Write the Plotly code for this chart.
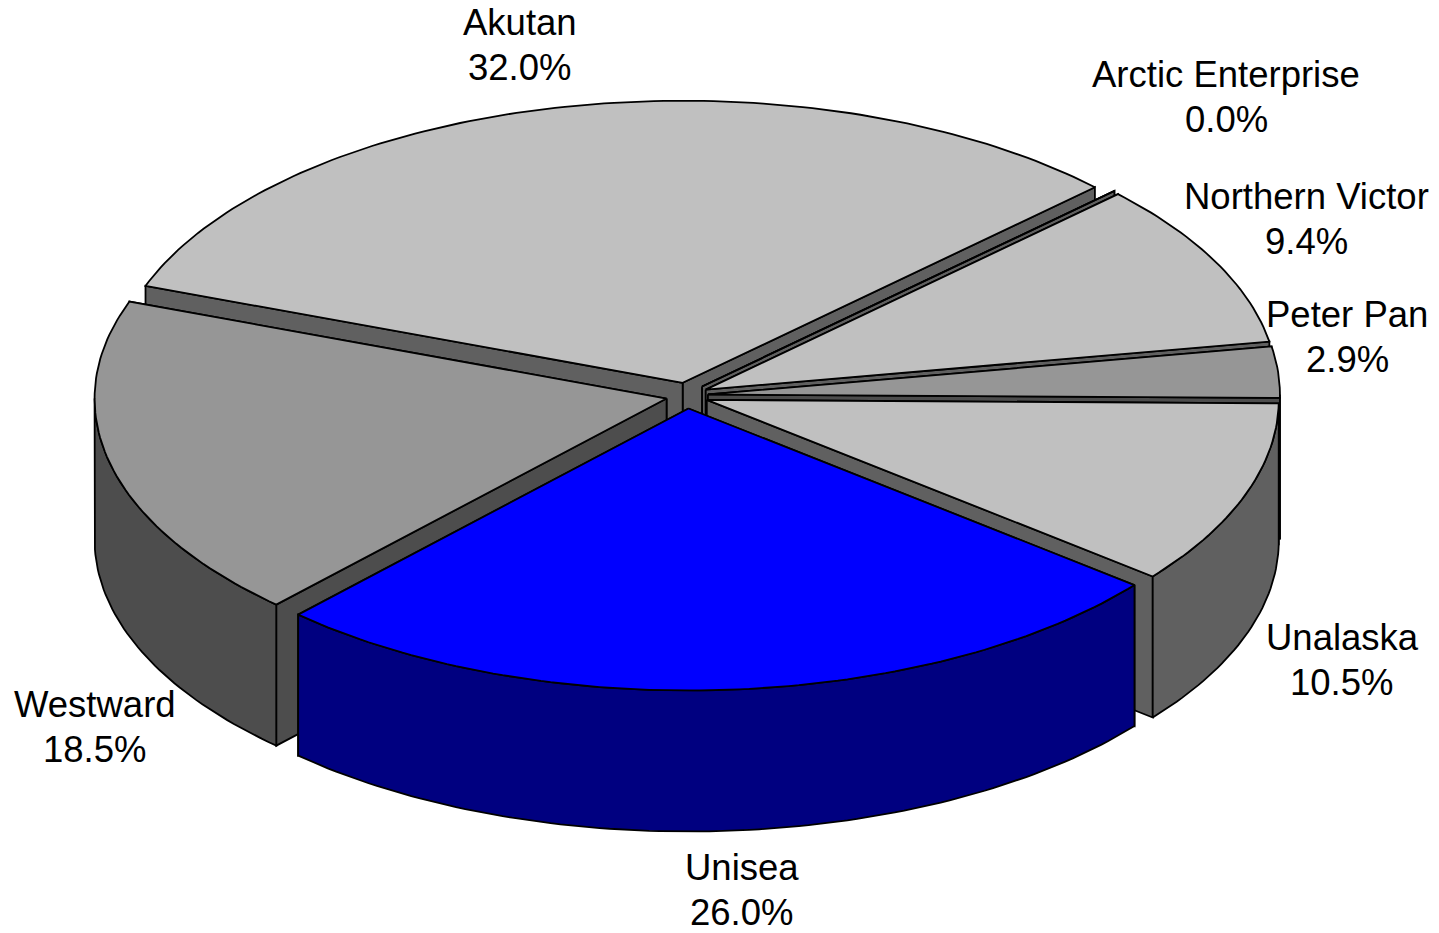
import math
import plotly.graph_objects as go

# ---- data ----
slices = ["Akutan", "Arctic Enterprise", "Northern Victor", "Peter Pan", "Unalaska", "Unisea", "Westward"]
shares = [32.0, 0.0, 9.4, 2.9, 10.5, 26.0, 18.5]

# ---- styling / geometry of the projected pie ----
top_colors = ["#C0C0C0", "#C0C0C0", "#C0C0C0", "#969696", "#C0C0C0", "#0000FF", "#969696"]
wall_colors = ["#606060", "#606060", "#606060", "#4D4D4D", "#606060", "#000080", "#4D4D4D"]
label_xy = [(520, 45), (1226, 97), (1306, 219), (1347, 337), (1342, 660), (742, 890), (95, 727)]
draw_order = [0, 1, 2, 3, 4, 6, 5]

W, H = 1439, 933
CX, CY = 687, 395.5
RX, RY = 572, 282
DEPTH = 141
EX, EY = 21, 13
START = -69.9
LINE = dict(color="#000000", width=1.8)
FONT = dict(family="Liberation Sans, Arial, sans-serif", size=36.5, color="#000000")
LINE_GAP = 45


def project(t, ox, oy, drop=0.0):
    a = math.radians(t)
    return ox + RX * math.sin(a), oy - RY * math.cos(a) + drop


def poly(fig, pts, color):
    xs = [p[0] for p in pts] + [pts[0][0]]
    ys = [p[1] for p in pts] + [pts[0][1]]
    fig.add_trace(go.Scatter(x=xs, y=ys, mode="lines", fill="toself", fillcolor=color,
                             line=LINE, hoverinfo="skip", showlegend=False))


def arc(a0, a1):
    n = max(1, int(abs(a1 - a0)))
    return [a0 + (a1 - a0) * i / n for i in range(n + 1)]


total = sum(shares)
spans = []
acc = START
for v in shares:
    sweep = v / total * 360
    spans.append((acc, acc + sweep))
    acc += sweep

fig = go.Figure()
for i in draw_order:
    a0, a1 = spans[i]
    mid = math.radians((a0 + a1) / 2)
    ox = CX + EX * math.sin(mid)
    oy = CY - EY * math.cos(mid)
    # cut faces, the one further back first
    for a in sorted((a0, a1), key=lambda t: project(t, ox, oy)[1]):
        poly(fig, [(ox, oy), project(a, ox, oy), project(a, ox, oy, drop=DEPTH), (ox, oy + DEPTH)], wall_colors[i])
    # outer wall: only the part that faces the viewer
    w0, w1 = max(a0, 90), min(a1, 270)
    if w1 > w0:
        ang = arc(w0, w1)
        pts = [project(a, ox, oy) for a in ang] + [project(a, ox, oy, drop=DEPTH) for a in reversed(ang)]
        poly(fig, pts, wall_colors[i])
    # top face
    poly(fig, [(ox, oy)] + [project(a, ox, oy) for a in arc(a0, a1)], top_colors[i])

for name, v, (lx, ly) in zip(slices, shares, label_xy):
    for text, yy in ((name, ly - LINE_GAP / 2), (f"{v:.1f}%", ly + LINE_GAP / 2)):
        fig.add_annotation(x=lx, y=yy, text=text, showarrow=False, xanchor="center",
                           yanchor="middle", align="center", font=FONT)

fig.update_layout(width=W, height=H, margin=dict(l=0, r=0, t=0, b=0),
                  paper_bgcolor="#FFFFFF", plot_bgcolor="#FFFFFF", showlegend=False,
                  xaxis=dict(range=[0, W], visible=False, fixedrange=True),
                  yaxis=dict(range=[H, 0], visible=False, fixedrange=True))
fig.write_html("out.html", config=dict(displayModeBar=False),
               post_script="document.body.style.margin='0';document.body.style.overflow='hidden';")
